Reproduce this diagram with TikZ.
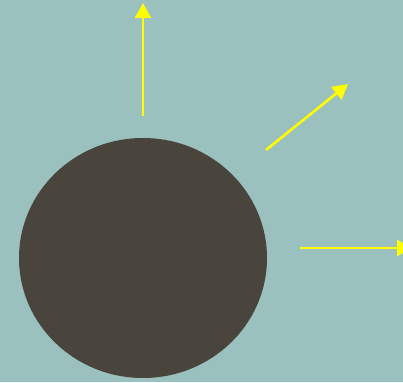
\documentclass[tikz,border=0pt]{standalone}
\usetikzlibrary{arrows.meta}
\definecolor{bgteal}{HTML}{9BC1BF}
\definecolor{ball}{HTML}{49443C}
\definecolor{ray}{HTML}{FFFF00}
\begin{document}
\begin{tikzpicture}[x=1pt,y=-1pt,
  raystyle/.style={draw=ray,line width=2.6pt,-{Triangle[length=15pt,width=16pt]}}]
\fill[bgteal] (0,0) rectangle (403,382);
\useasboundingbox (0,0) rectangle (403,382);
\fill[ball] (143,258) ellipse [x radius=124, y radius=120];
\coordinate (s1) at (143,116);
\coordinate (e1) at (143,3);
\coordinate (s2) at (266,150);
\coordinate (e2) at (348,84);
\coordinate (s3) at (300,248);
\coordinate (e3) at (412,248);
\draw[raystyle] (s1) -- (e1);
\draw[raystyle] (s2) -- (e2);
\draw[raystyle] (s3) -- (e3);
\end{tikzpicture}
\end{document}
